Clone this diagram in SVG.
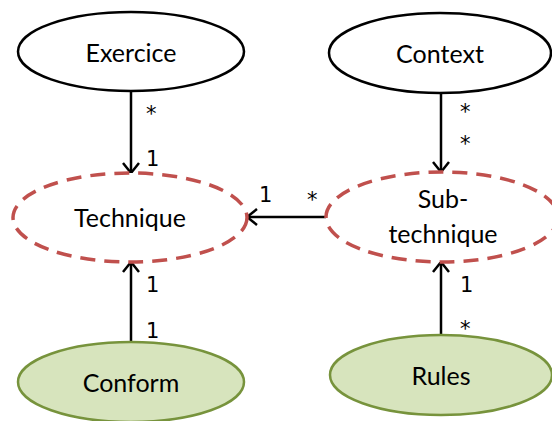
<svg xmlns="http://www.w3.org/2000/svg" width="552" height="421" viewBox="0 0 552 421">
<defs>
<style>
.plain{fill:#ffffff;stroke:#000000;stroke-width:2.5}
.dash{fill:#ffffff;stroke:#c0504d;stroke-width:3.5;stroke-dasharray:15 9}
.green{fill:#d7e4bd;stroke:#77933c;stroke-width:2.5}
.lbl{font-family:Lato,"Open Sans","Liberation Sans",sans-serif;font-size:25px;fill:#000;text-anchor:middle}
.card{font-family:"DejaVu Sans","Liberation Sans",sans-serif;font-size:21px;fill:#000}
.conn{stroke:#000;stroke-width:2.5;fill:none}
</style>
<marker id="arr" viewBox="0 0 12 18" refX="11" refY="9" markerWidth="12" markerHeight="18" markerUnits="userSpaceOnUse" orient="auto">
<path d="M1,1 L11,9 L1,17" fill="none" stroke="#000" stroke-width="2.5"/>
</marker>
</defs>
<g id="connectors">
<line class="conn" x1="131" y1="91" x2="131" y2="173" marker-end="url(#arr)"/>
<line class="conn" x1="441" y1="93" x2="441" y2="172" marker-end="url(#arr)"/>
<line class="conn" x1="326" y1="217" x2="247" y2="217" marker-end="url(#arr)"/>
<line class="conn" x1="131" y1="342" x2="131" y2="262" marker-end="url(#arr)"/>
<line class="conn" x1="441" y1="335" x2="441" y2="262" marker-end="url(#arr)"/>
<text class="card" x="146" y="121">*</text>
<text class="card" x="146" y="166">1</text>
<text class="card" x="259" y="202">1</text>
<text class="card" x="307" y="207">*</text>
<text class="card" x="460" y="119">*</text>
<text class="card" x="460" y="151">*</text>
<text class="card" x="146" y="292">1</text>
<text class="card" x="146" y="338">1</text>
<text class="card" x="460" y="292">1</text>
<text class="card" x="460" y="336">*</text>
</g>
<g id="exercice">
<ellipse class="plain" cx="131" cy="51.5" rx="113" ry="39.5"/>
<text class="lbl" x="131" y="62">Exercice</text>
</g>
<g id="context">
<ellipse class="plain" cx="440" cy="53" rx="111" ry="40"/>
<text class="lbl" x="440" y="63">Context</text>
</g>
<g id="technique">
<ellipse class="dash" cx="130" cy="217.5" rx="117" ry="44.5"/>
<text class="lbl" x="130" y="227">Technique</text>
</g>
<g id="subtechnique">
<ellipse class="dash" cx="442" cy="217" rx="116" ry="45"/>
<text class="lbl" x="443" y="208">Sub-</text>
<text class="lbl" x="443" y="243">technique</text>
</g>
<g id="conform">
<ellipse class="green" cx="131" cy="382" rx="113" ry="40"/>
<text class="lbl" x="131" y="392">Conform</text>
</g>
<g id="rules">
<ellipse class="green" cx="441" cy="375" rx="111" ry="40"/>
<text class="lbl" x="441" y="385">Rules</text>
</g>
</svg>
